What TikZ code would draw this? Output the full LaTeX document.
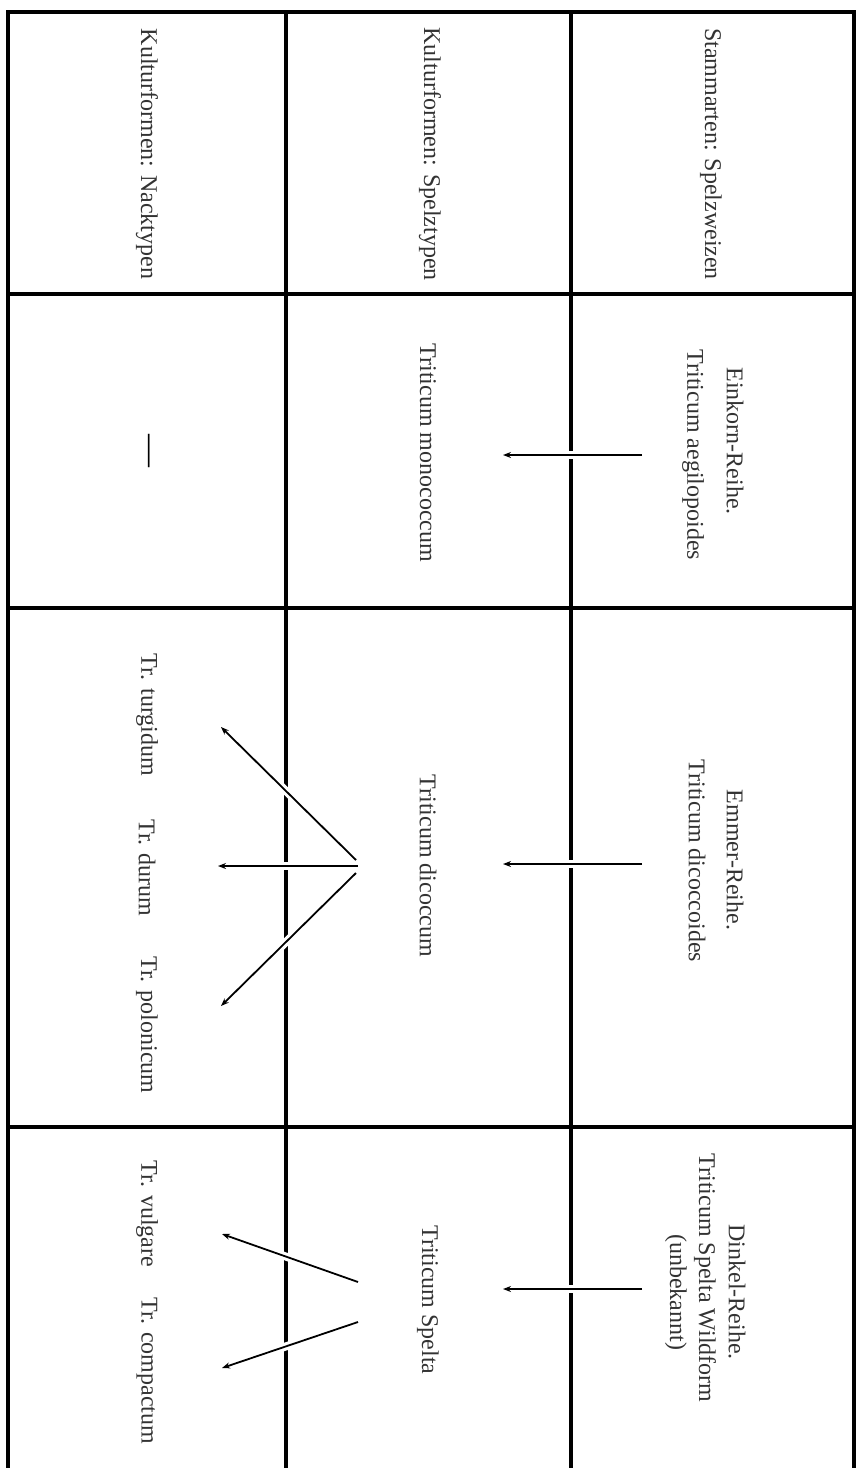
\documentclass[tikz,border=0pt]{standalone}
\usepackage{fontspec}
\setmainfont{Liberation Serif}
\usetikzlibrary{arrows.meta}
\begin{document}
\begin{tikzpicture}[x=1pt,y=-1pt,
  rule/.style={line width=4.5pt,black},
  lbl/.style={rotate=-90,inner sep=0pt,text=black!80,font=\fontsize{24}{28}\selectfont},
  arr/.style={line width=1.8pt,black,-{Stealth[length=8pt,width=6pt]}},
  halo/.style={line width=8pt,white,shorten >=14pt,shorten <=2pt}]
\useasboundingbox (0,0) rectangle (858,1468);
\fill[white] (0,0) rectangle (858,1468);

% table grid
\coordinate (tl) at (8,12);  \coordinate (tr) at (854,12);
\coordinate (bl) at (8,1468); \coordinate (br) at (854,1468);
\coordinate (v1t) at (286,12); \coordinate (v1b) at (286,1468);
\coordinate (v2t) at (571,12); \coordinate (v2b) at (571,1468);
\coordinate (h1l) at (8,294);  \coordinate (h1r) at (854,294);
\coordinate (h2l) at (8,608);  \coordinate (h2r) at (854,608);
\coordinate (h3l) at (8,1127); \coordinate (h3r) at (854,1127);

\draw[rule] (tl) -- (bl);
\draw[rule] (tr) -- (br);
\draw[rule] (v1t) -- (v1b);
\draw[rule] (v2t) -- (v2b);
\draw[rule] ([xshift=-2pt]tl) -- ([xshift=2pt]tr);
\draw[rule] (h1l) -- (h1r);
\draw[rule] (h2l) -- (h2r);
\draw[rule] (h3l) -- (h3r);

% headers
\node[lbl] (hA) at (711,154) {Stammarten: Spelzweizen};
\node[lbl] (hB) at (430,154) {Kulturformen: Spelztypen};
\node[lbl] (hC) at (147,154) {Kulturformen: Nacktypen};

% Einkorn row
\node[lbl] (e1) at (735,441) {Einkorn-Reihe.};
\node[lbl] (e2) at (693,455) {Triticum aegilopoides};
\node[lbl] (e3) at (428,453) {Triticum monococcum};
\node[rotate=-90,inner sep=0pt,font=\fontsize{33}{36}\selectfont] (e4) at (146,451) {—};

% Emmer row
\node[lbl] (m1) at (735,860) {Emmer-Reihe.};
\node[lbl] (m2) at (697,861) {Triticum dicoccoides};
\node[lbl] (m3) at (428,866) {Triticum dicoccum};
\node[lbl] (m4) at (147,715) {Tr. turgidum};
\node[lbl] (m5) at (147,868) {Tr. durum};
\node[lbl] (m6) at (147,1025) {Tr. polonicum};

% Dinkel row
\node[lbl] (d1) at (737,1292) {Dinkel-Reihe.};
\node[lbl] (d2) at (705,1278) {Triticum Spelta Wildform};
\node[lbl] (d3) at (676,1292) {(unbekannt)};
\node[lbl] (d4) at (428,1300) {Triticum Spelta};
\node[lbl] (d5) at (147,1214) {Tr. vulgare};
\node[lbl] (d6) at (147,1371) {Tr. compactum};

% arrow end points
\coordinate (ea) at (642,455);  \coordinate (eb) at (503,455);
\coordinate (ma) at (642,864);  \coordinate (mb) at (503,864);
\coordinate (da) at (642,1289); \coordinate (db) at (503,1289);
\coordinate (m3a) at (356,860); \coordinate (m3b) at (358,866); \coordinate (m3c) at (356,873);
\coordinate (m4t) at (221,727); \coordinate (m5t) at (218,866); \coordinate (m6t) at (221,1006);
\coordinate (d4a) at (358,1282); \coordinate (d4b) at (358,1322);
\coordinate (d5t) at (222,1234); \coordinate (d6t) at (222,1368);

% halos (gaps in rules)
\foreach \s/\t in {ea/eb,ma/mb,da/db,m3a/m4t,m3b/m5t,m3c/m6t,d4a/d5t,d4b/d6t}
  \draw[halo] (\s) -- (\t);

% arrows
\foreach \s/\t in {ea/eb,ma/mb,da/db,m3a/m4t,m3b/m5t,m3c/m6t,d4a/d5t,d4b/d6t}
  \draw[arr] (\s) -- (\t);
\end{tikzpicture}
\end{document}
